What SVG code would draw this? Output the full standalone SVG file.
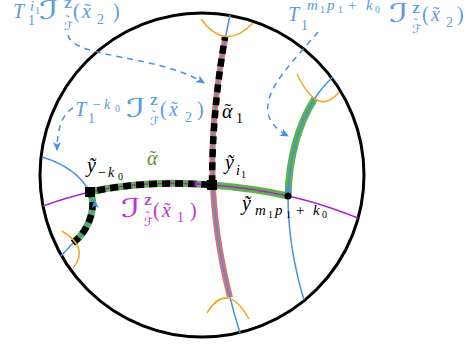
<svg xmlns="http://www.w3.org/2000/svg" width="471" height="345" viewBox="0 0 471 345">
<style>
.m{font-family:"Liberation Serif","DejaVu Serif",serif;font-style:italic;font-size:20px}
.r{font-style:normal}
.cal{font-family:"DejaVu Serif","DejaVu Sans",serif;font-style:normal}
.I{font-family:"DejaVu Serif","DejaVu Sans",serif;font-style:normal;font-size:26px}
.bf{font-weight:bold;font-style:normal}
.lb{fill:#5a9bdc}
.blue{fill:none;stroke:#4a90e2;stroke-width:1.5}
.org{fill:none;stroke:#f5a623;stroke-width:1.5}
.grn{fill:none;stroke:#5cb34a;stroke-width:7}
.dash{fill:none;stroke:#4a90e2;stroke-width:1.5;stroke-dasharray:6 5}
</style>
<defs>
<marker id="ah" markerWidth="12" markerHeight="10" refX="8" refY="4" orient="auto" markerUnits="userSpaceOnUse"><path d="M0,0 L9,4 L0,8 L2.5,4 z" fill="#4a90e2"/></marker>
<clipPath id="redclip"><rect x="0" y="37" width="471" height="260"/></clipPath>
</defs>
<rect width="471" height="345" fill="#fff"/>
<g id="disk"><circle cx="202" cy="175" r="162" fill="none" stroke="#000" stroke-width="3"/></g>
<g id="bands">
<path class="grn" d="M90,192 C130,183 175,182 212,185 C240,187 265,191 288,196"/>
<path class="grn" d="M315,98 C298,125 289,160 288,196"/>
<path class="grn" d="M90,192 C96,203 92,228 73,243"/>
<path d="M230,15 C205,130 205,220 240,333" fill="none" stroke="#d9736f" stroke-width="6" clip-path="url(#redclip)"/>
</g>
<g id="geodesics">
<path class="blue" d="M42,157 C62,163 80,174 90,192 C96,203 92,228 73,243 L61,256"/>
<path class="blue" d="M230,15 C205,130 205,220 240,333"/>
<path class="blue" d="M333,77 Q323,86 315,98 C298,125 289,160 288,196 C288,235 295,270 304,300"/>
<path d="M43,206 Q65,198 90,192 C130,183 175,182 212,185 C240,187 265,191 288,196 C312,201 335,209 358,218" fill="none" stroke="#b020d0" stroke-width="1.5"/>
</g>
<g id="path-alpha">
<path d="M73,243 C92,228 96,203 90,192 C130,183 175,182 212,185 C212,140 216,90 225,37" fill="none" stroke="#000" stroke-width="6.5" stroke-dasharray="8 5"/>
<rect x="85" y="187" width="10" height="10" fill="#000"/>
<rect x="207" y="180" width="10" height="10" fill="#000"/>
</g>
<g id="horocycles">
<path class="org" d="M201,19 Q225,52 253,23"/>
<path class="org" d="M297,74 Q318,118 339,92"/>
<path class="org" d="M62,231 Q90,248 73,268"/>
<path class="org" d="M207,313 Q227,280 249,319"/>
</g>
<g id="arrowheads">
<polygon points="288.5,184 285,193 288.5,191 292,193" fill="#4a90e2"/>
<polygon points="95,199 91.5,208 95,206 98.5,208" fill="#4a90e2"/>
<polygon points="201,183.8 193,180.3 195,183.8 193,187.3" fill="#b020d0"/>
<circle cx="288" cy="196" r="3.5" fill="#000"/>
</g>
<g id="connectors">
<path class="dash" d="M68,35 C72,58 160,55 204,83" marker-end="url(#ah)"/>
<path class="dash" d="M318,32 C288,68 240,110 288,136" marker-end="url(#ah)"/>
<path class="dash" d="M73,108 C62,114 57,130 57,150" marker-end="url(#ah)"/>
</g>
<g id="label-top-left" class="lb">
<text class="m"><tspan x="13" y="18">T</tspan><tspan x="28" y="25" class="r" font-size="14">1</tspan><tspan x="30" y="11" font-size="14">i</tspan><tspan x="35" y="14" class="r" font-size="10">1</tspan><tspan x="64" y="8" class="bf" font-size="12">Z</tspan><tspan x="64" y="30" class="cal" font-size="12">ℱ</tspan><tspan x="65.5" y="24" class="r" font-size="12">˜</tspan><tspan x="73" y="18" class="r">(</tspan><tspan x="82" y="18">x</tspan><tspan x="84" y="18" class="r">˜</tspan><tspan x="97" y="24" class="r" font-size="14">2</tspan><tspan x="113" y="18" class="r">)</tspan></text>
<text class="I" transform="translate(39,19) scale(1.6,1)">ℐ</text>
</g>
<g id="label-top-right" class="lb">
<text class="m"><tspan x="288" y="21">T</tspan><tspan x="301" y="30" class="r" font-size="14">1</tspan><tspan x="307" y="10" font-size="15">m</tspan><tspan x="320" y="13" class="r" font-size="10">1</tspan><tspan x="327" y="10" font-size="15">p</tspan><tspan x="338" y="13" class="r" font-size="10">1</tspan><tspan x="348" y="10" class="r" font-size="15">+</tspan><tspan x="366" y="10" font-size="15">k</tspan><tspan x="375" y="13" class="r" font-size="10">0</tspan><tspan x="412" y="13" class="bf" font-size="12">Z</tspan><tspan x="412" y="33" class="cal" font-size="12">ℱ</tspan><tspan x="413.5" y="27" class="r" font-size="12">˜</tspan><tspan x="422" y="21" class="r">(</tspan><tspan x="431" y="21">x</tspan><tspan x="433" y="21" class="r">˜</tspan><tspan x="446" y="27" class="r" font-size="14">2</tspan><tspan x="457" y="21" class="r">)</tspan></text>
<text class="I" transform="translate(389,22) scale(1.6,1)">ℐ</text>
</g>
<g id="label-left" class="lb">
<text class="m"><tspan x="75" y="116">T</tspan><tspan x="88" y="123" class="r" font-size="14">1</tspan><tspan x="93" y="109" class="r" font-size="14">−</tspan><tspan x="104" y="109" font-size="14">k</tspan><tspan x="115" y="112" class="r" font-size="10">0</tspan><tspan x="150" y="105" class="bf" font-size="12">Z</tspan><tspan x="150" y="125" class="cal" font-size="12">ℱ</tspan><tspan x="151.5" y="119" class="r" font-size="12">˜</tspan><tspan x="160" y="116" class="r">(</tspan><tspan x="169" y="116">x</tspan><tspan x="171" y="116" class="r">˜</tspan><tspan x="185" y="122" class="r" font-size="14">2</tspan><tspan x="197" y="116" class="r">)</tspan></text>
<text class="I" transform="translate(126,117) scale(1.6,1)">ℐ</text>
</g>
<g id="label-alpha1">
<text class="m" fill="#000"><tspan x="222" y="118">α</tspan><tspan x="224.5" y="118" class="r">˜</tspan><tspan x="236" y="123" class="r" font-size="14">1</tspan></text>
</g>
<g id="label-yi1">
<text class="m" fill="#000"><tspan x="225" y="169">ỹ</tspan><tspan x="236" y="175" font-size="14">i</tspan><tspan x="241" y="178" class="r" font-size="10">1</tspan></text>
</g>
<g id="label-alpha">
<text class="m" fill="#5e8f32"><tspan x="147" y="165">α</tspan><tspan x="149.5" y="165" class="r">˜</tspan></text>
</g>
<g id="label-ymk">
<text class="m" fill="#000"><tspan x="87" y="172">ỹ</tspan><tspan x="98" y="177" class="r" font-size="14">−</tspan><tspan x="108" y="177" font-size="14">k</tspan><tspan x="118" y="180" class="r" font-size="10">0</tspan></text>
</g>
<g id="label-x1" fill="#bf2fd6">
<text class="m"><tspan x="144" y="205" class="bf" font-size="12">Z</tspan><tspan x="144" y="226" class="cal" font-size="12">ℱ</tspan><tspan x="145.5" y="220" class="r" font-size="12">˜</tspan><tspan x="153" y="217" class="r">(</tspan><tspan x="162" y="217">x</tspan><tspan x="164" y="217" class="r">˜</tspan><tspan x="177" y="222" class="r" font-size="14">1</tspan><tspan x="190" y="217" class="r">)</tspan></text>
<text class="I" transform="translate(121,217) scale(1.6,1)">ℐ</text>
</g>
<g id="label-ym">
<text class="m" fill="#000"><tspan x="242" y="210">ỹ</tspan><tspan x="255" y="215" font-size="15">m</tspan><tspan x="268" y="218" class="r" font-size="10">1</tspan><tspan x="275" y="215" font-size="15">p</tspan><tspan x="286" y="218" class="r" font-size="10">1</tspan><tspan x="296" y="215" class="r" font-size="15">+</tspan><tspan x="313" y="215" font-size="15">k</tspan><tspan x="322" y="218" class="r" font-size="10">0</tspan></text>
</g>
</svg>
